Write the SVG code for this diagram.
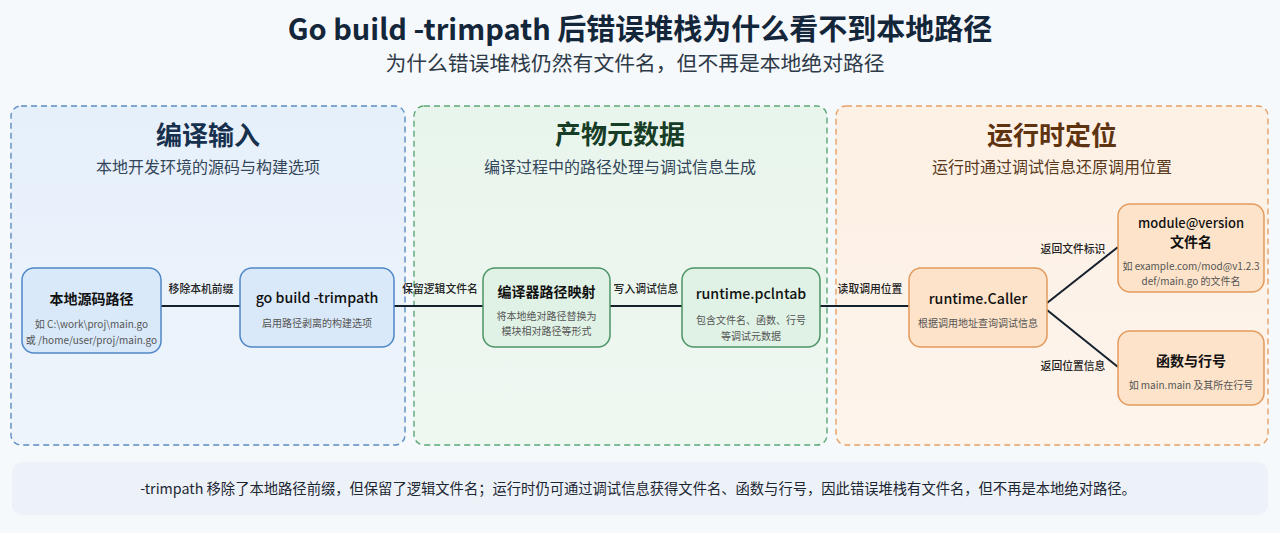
<svg xmlns="http://www.w3.org/2000/svg" width="1280" height="533" viewBox="0 0 1280 533">
<defs>
<linearGradient id="gBlue" x1="0" y1="0" x2="0" y2="1"><stop offset="0" stop-color="#e6f0fb"/><stop offset="1" stop-color="#eef4fb"/></linearGradient>
<linearGradient id="gGreen" x1="0" y1="0" x2="0" y2="1"><stop offset="0" stop-color="#e8f5ec"/><stop offset="1" stop-color="#eff7f1"/></linearGradient>
<linearGradient id="gOrange" x1="0" y1="0" x2="0" y2="1"><stop offset="0" stop-color="#fdf0e4"/><stop offset="1" stop-color="#fdf4ec"/></linearGradient>
</defs>
<style>
text{font-family:"Noto Sans CJK SC","Noto Sans",sans-serif;text-anchor:middle}
.title{font-size:29px;font-weight:700;fill:#14263a}
.subtitle{font-size:20.8px;fill:#2e3a48}
.ptitle{font-size:26px;font-weight:700}
.psub{font-size:16px}
.panel{stroke-width:1.4;stroke-dasharray:6 4}
.nb{fill:#d9e9f9;stroke:#4f86c6;stroke-width:1.5}
.ng{fill:#e0f2e5;stroke:#4b9466;stroke-width:1.5}
.no{fill:#fde3c9;stroke:#e39a5c;stroke-width:1.5}
.nt{font-size:14px;font-weight:700;fill:#111}
.ntl{font-size:14.2px;font-weight:500;fill:#111}
.ns{font-size:10px;fill:#555}
.conn{stroke:#14202c;stroke-width:2;fill:none}
.cl{font-size:10.8px;fill:#222;font-weight:500}
</style>
<rect width="1280" height="533" fill="#f6f9fc"/>
<text class="title" x="640" y="40">Go build -trimpath 后错误堆栈为什么看不到本地路径</text>
<text class="subtitle" x="635" y="71">为什么错误堆栈仍然有文件名，但不再是本地绝对路径</text>

<g id="panel-input">
<rect class="panel" x="11" y="106" width="394" height="339" rx="10" fill="url(#gBlue)" stroke="#5a8cc4"/>
<text class="ptitle" x="208" y="145" fill="#16304e">编译输入</text>
<text class="psub" x="208" y="173" fill="#34465a">本地开发环境的源码与构建选项</text>
</g>
<g id="panel-meta">
<rect class="panel" x="414" y="106" width="413" height="339" rx="10" fill="url(#gGreen)" stroke="#5aa876"/>
<text class="ptitle" x="620" y="144" fill="#173d27">产物元数据</text>
<text class="psub" x="620" y="173" fill="#34465a">编译过程中的路径处理与调试信息生成</text>
</g>
<g id="panel-runtime">
<rect class="panel" x="836" y="106" width="432" height="339" rx="10" fill="url(#gOrange)" stroke="#e5a066"/>
<text class="ptitle" x="1052" y="145" fill="#5e3310">运行时定位</text>
<text class="psub" x="1052" y="173" fill="#5a3a1c">运行时通过调试信息还原调用位置</text>
</g>

<g id="connectors">
<line class="conn" x1="161" y1="306" x2="240" y2="306"/>
<text class="cl" x="201" y="293">移除本机前缀</text>
<line class="conn" x1="394" y1="306" x2="483" y2="306"/>
<text class="cl" x="440" y="293">保留逻辑文件名</text>
<line class="conn" x1="610" y1="306" x2="682" y2="306"/>
<text class="cl" x="646" y="293">写入调试信息</text>
<line class="conn" x1="820" y1="306" x2="909" y2="306"/>
<text class="cl" x="870" y="293">读取调用位置</text>
<line class="conn" x1="1047" y1="303" x2="1118" y2="247"/>
<text class="cl" x="1073" y="253">返回文件标识</text>
<line class="conn" x1="1047" y1="310" x2="1118" y2="367"/>
<text class="cl" x="1073" y="370">返回位置信息</text>
</g>

<g id="node-src">
<rect class="nb" x="22" y="268" width="139" height="85" rx="12"/>
<text class="nt" x="91.5" y="304">本地源码路径</text>
<text class="ns" x="91.5" y="328">如 C:\work\proj\main.go</text>
<text class="ns" x="91.5" y="344">或 /home/user/proj/main.go</text>
</g>
<g id="node-build">
<rect class="nb" x="240" y="268" width="154" height="79" rx="12"/>
<text class="ntl" x="317" y="303">go build -trimpath</text>
<text class="ns" x="317" y="327">启用路径剥离的构建选项</text>
</g>
<g id="node-map">
<rect class="ng" x="483" y="268" width="127" height="79" rx="12"/>
<text class="nt" x="546.5" y="297">编译器路径映射</text>
<text class="ns" x="546.5" y="320">将本地绝对路径替换为</text>
<text class="ns" x="546.5" y="335">模块相对路径等形式</text>
</g>
<g id="node-pcln">
<rect class="ng" x="682" y="268" width="138" height="79" rx="12"/>
<text class="ntl" x="751" y="299">runtime.pclntab</text>
<text class="ns" x="751" y="324">包含文件名、函数、行号</text>
<text class="ns" x="751" y="340">等调试元数据</text>
</g>
<g id="node-caller">
<rect class="no" x="909" y="268" width="138" height="79" rx="12"/>
<text class="ntl" x="978" y="304">runtime.Caller</text>
<text class="ns" x="978" y="327">根据调用地址查询调试信息</text>
</g>
<g id="node-file">
<rect class="no" x="1118" y="204" width="146" height="88" rx="12"/>
<text class="ntl" x="1191" y="228" style="font-size:13px">module@version</text>
<text class="nt" x="1191" y="247">文件名</text>
<text class="ns" x="1191" y="270">如 example.com/mod@v1.2.3</text>
<text class="ns" x="1191" y="285">def/main.go 的文件名</text>
</g>
<g id="node-func">
<rect class="no" x="1118" y="331" width="146" height="74" rx="12"/>
<text class="nt" x="1191" y="366">函数与行号</text>
<text class="ns" x="1191" y="389">如 main.main 及其所在行号</text>
</g>

<g id="summary">
<rect x="12" y="462" width="1256" height="53" rx="10" fill="#edf1f8"/>
<text x="638" y="494" style="font-size:14.3px;fill:#1c2733">-trimpath 移除了本地路径前缀，但保留了逻辑文件名；运行时仍可通过调试信息获得文件名、函数与行号，因此错误堆栈有文件名，但不再是本地绝对路径。</text>
</g>
</svg>
